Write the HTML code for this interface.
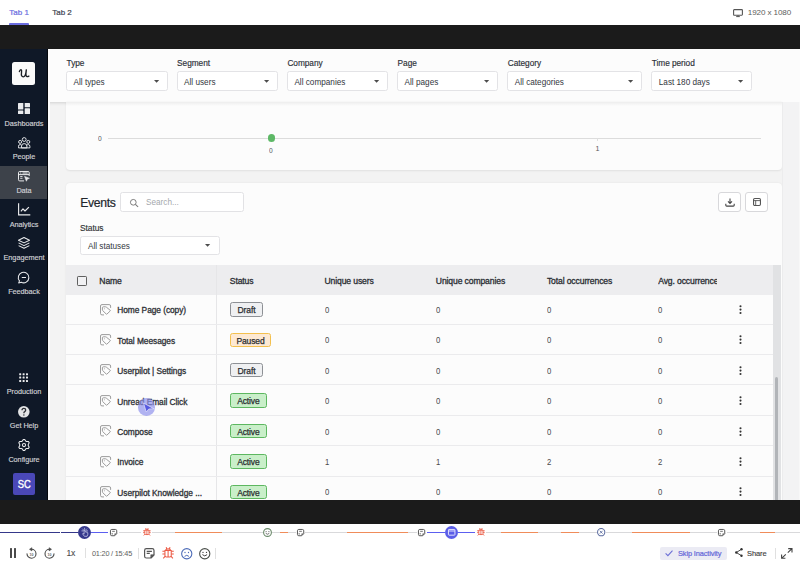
<!DOCTYPE html>
<html><head><meta charset="utf-8">
<style>
*{box-sizing:border-box;margin:0;padding:0}
html,body{width:800px;height:569px;overflow:hidden;background:#fff;font-family:"Liberation Sans",sans-serif;color:#333}
.a{position:absolute}
.t{position:absolute;white-space:nowrap;line-height:1}
svg{position:absolute;overflow:visible}
.lab{font-size:8.3px;color:#2b2f36;letter-spacing:-0.05px;-webkit-text-stroke:0.15px #2b2f36}
.dd{background:#fff;border:1px solid #e3e3e6;border-radius:2.5px}
.ddv{font-size:8.2px;color:#33373e}
.th{top:276.8px;font-size:8.6px;color:#2a2d33;letter-spacing:-0.12px;-webkit-text-stroke:0.3px #2a2d33}
.tn{font-size:8.35px;color:#2e3136;letter-spacing:-0.05px;-webkit-text-stroke:0.3px #2e3136}
.tv{font-size:8.8px;color:#4a4a4a;display:inline-block;transform:scaleX(0.88);transform-origin:0 0}
.badge{height:14.5px;border:1px solid;border-radius:2.5px;font-size:8.5px;line-height:14.2px;text-align:center;color:#2a2d31;letter-spacing:-0.12px;-webkit-text-stroke:0.25px #2a2d31}
.bd{background:#eff0f2;border-color:#8d9095}
.bp{background:#fde9d3;border-color:#f3c04e}
.ba{background:#c9efc9;border-color:#5db760}
.sl{left:0;width:48px;text-align:center;font-size:7.3px;color:#cfd1d5;letter-spacing:-0.05px;-webkit-text-stroke:0.15px #cfd1d5}
.arr{width:0;height:0;border-left:2.9px solid transparent;border-right:2.9px solid transparent;border-top:2.9px solid #505050}
</style></head><body>
<!-- top tabs -->
<div class="a" style="left:0;top:0;width:800px;height:25px;background:#fff"></div>
<div class="t" style="left:9.3px;top:8.8px;font-size:8px;color:#6b6de0;-webkit-text-stroke:0.2px #6b6de0">Tab 1</div>
<div class="a" style="left:9px;top:23px;width:20px;height:2px;background:#6b6de0;border-radius:1px 1px 0 0"></div>
<div class="t" style="left:52.2px;top:8.8px;font-size:8px;color:#3d4450;-webkit-text-stroke:0.2px #3d4450">Tab 2</div>
<svg style="left:733px;top:9px" width="10" height="8" viewBox="0 0 10 8"><rect x="0.6" y="0.6" width="8.8" height="5.6" rx="0.6" fill="none" stroke="#555" stroke-width="1.1"/><path d="M5 6.2V7.6M3.2 7.6H6.8" stroke="#555" stroke-width="1"/></svg>
<div class="t" style="left:747.8px;top:9px;font-size:8.1px;color:#5c5c5c;letter-spacing:-0.12px">1920 x 1080</div>
<!-- black bands -->
<div class="a" style="left:0;top:25px;width:800px;height:24px;background:#1b1b1b"></div>
<!-- sidebar -->
<div class="a" id="sidebar" style="left:0;top:49px;width:48px;height:450.5px;background:#0f1827"></div>
<!-- content bg -->
<div class="a" style="left:48px;top:49px;width:752px;height:450.5px;background:#f3f3f3"></div>
<!-- filter bar -->
<div class="a" style="left:48px;top:49px;width:752px;height:53px;background:#fcfcfc;box-shadow:0 1px 2px rgba(0,0,0,0.06)"></div>
<!-- chart card -->
<div class="a" style="left:66px;top:102px;width:715.5px;height:67.5px;background:#fcfcfc;border-radius:0 0 4px 4px;box-shadow:0 0.5px 2px rgba(0,0,0,0.08)"></div>
<!-- events card -->
<div class="a" style="left:66px;top:183px;width:715.5px;height:330px;background:#fcfcfc;border-radius:4px;box-shadow:0 0.5px 2px rgba(0,0,0,0.08)"></div>
<div class="a" style="left:48px;top:102px;width:752px;height:3.5px;background:linear-gradient(rgba(0,0,0,0.06),rgba(0,0,0,0))"></div>
<!-- right gutter -->
<div class="a" style="left:781.5px;top:102px;width:17.5px;height:397.5px;background:#f3f3f4;border-left:0.8px solid #ececed"></div>
<div class="a" style="left:799px;top:102px;width:1px;height:397.5px;background:#f8f8f8"></div>

<div class="t lab" style="left:66.6px;top:59.1px">Type</div>
<div class="a dd" style="left:66.0px;top:70.8px;width:101.5px;height:20.2px"></div>
<div class="t ddv" style="left:73.6px;top:78.6px">All types</div>
<svg style="left:153.7px;top:79.7px" width="5.2" height="2.8" viewBox="0 0 5.2 2.8"><path d="M0 0H5.2L2.6 2.8Z" fill="#4d4d4d"/></svg>
<div class="t lab" style="left:177.1px;top:59.1px">Segment</div>
<div class="a dd" style="left:176.5px;top:70.8px;width:101.0px;height:20.2px"></div>
<div class="t ddv" style="left:184.1px;top:78.6px">All users</div>
<svg style="left:263.7px;top:79.7px" width="5.2" height="2.8" viewBox="0 0 5.2 2.8"><path d="M0 0H5.2L2.6 2.8Z" fill="#4d4d4d"/></svg>
<div class="t lab" style="left:287.4px;top:59.1px">Company</div>
<div class="a dd" style="left:286.8px;top:70.8px;width:101.0px;height:20.2px"></div>
<div class="t ddv" style="left:294.4px;top:78.6px">All companies</div>
<svg style="left:374.0px;top:79.7px" width="5.2" height="2.8" viewBox="0 0 5.2 2.8"><path d="M0 0H5.2L2.6 2.8Z" fill="#4d4d4d"/></svg>
<div class="t lab" style="left:397.6px;top:59.1px">Page</div>
<div class="a dd" style="left:397.0px;top:70.8px;width:100.6px;height:20.2px"></div>
<div class="t ddv" style="left:404.6px;top:78.6px">All pages</div>
<svg style="left:483.8px;top:79.7px" width="5.2" height="2.8" viewBox="0 0 5.2 2.8"><path d="M0 0H5.2L2.6 2.8Z" fill="#4d4d4d"/></svg>
<div class="t lab" style="left:507.8px;top:59.1px">Category</div>
<div class="a dd" style="left:507.2px;top:70.8px;width:134.8px;height:20.2px"></div>
<div class="t ddv" style="left:514.8px;top:78.6px">All categories</div>
<svg style="left:628.2px;top:79.7px" width="5.2" height="2.8" viewBox="0 0 5.2 2.8"><path d="M0 0H5.2L2.6 2.8Z" fill="#4d4d4d"/></svg>
<div class="t lab" style="left:651.8px;top:59.1px">Time period</div>
<div class="a dd" style="left:651.2px;top:70.8px;width:100.8px;height:20.2px"></div>
<div class="t ddv" style="left:658.8px;top:78.6px">Last 180 days</div>
<svg style="left:738.2px;top:79.7px" width="5.2" height="2.8" viewBox="0 0 5.2 2.8"><path d="M0 0H5.2L2.6 2.8Z" fill="#4d4d4d"/></svg>
<div class="t" style="left:97.8px;top:134.9px;font-size:7.4px;color:#5a5a5a;display:inline-block;transform:scaleX(0.9);transform-origin:0 0">0</div>
<div class="a" style="left:107.8px;top:137.9px;width:653px;height:1px;background:#dcdcdc"></div>
<div class="a" style="left:597px;top:138px;width:1px;height:3px;background:#dedede"></div>
<div class="a" style="left:267.5px;top:134.3px;width:7.5px;height:7.5px;border-radius:50%;background:#5db866"></div>
<div class="t" style="left:269.4px;top:147.4px;font-size:7.4px;color:#5a5a5a;display:inline-block;transform:scaleX(0.9);transform-origin:0 0">0</div>
<div class="t" style="left:595.6px;top:146.4px;font-size:7.1px;color:#5a5a5a">1</div>
<div class="t" style="left:80.2px;top:196.9px;font-size:12.2px;letter-spacing:-0.3px;color:#22262c;-webkit-text-stroke:0.2px #22262c">Events</div>
<div class="a" style="left:120px;top:192px;width:123.5px;height:19.8px;background:#fff;border:1px solid #e2e2e5;border-radius:2.5px"></div>
<svg style="left:129.5px;top:198.8px" width="9" height="8" viewBox="0 0 9 8"><circle cx="3.3" cy="3.3" r="2.85" fill="none" stroke="#777" stroke-width="0.95"/><path d="M5.4 5.4L8.1 7.8" stroke="#777" stroke-width="1.05"/></svg>
<div class="t" style="left:146px;top:198.5px;font-size:8.2px;color:#a5a8ad">Search...</div>
<div class="t lab" style="left:80px;top:223.6px;font-weight:400;color:#333;font-size:8.4px">Status</div>
<div class="a dd" style="left:79.8px;top:235.8px;width:140.6px;height:19.7px"></div>
<div class="t ddv" style="left:88px;top:242.5px">All statuses</div>
<svg style="left:205.0px;top:243.9px" width="5.2" height="2.8" viewBox="0 0 5.2 2.8"><path d="M0 0H5.2L2.6 2.8Z" fill="#4d4d4d"/></svg>
<div class="a" style="left:718.3px;top:191.8px;width:22.5px;height:20px;border:1px solid #d8d8db;border-radius:3px;background:#fff"></div>
<div class="a" style="left:745.4px;top:191.8px;width:22.5px;height:20px;border:1px solid #d8d8db;border-radius:3px;background:#fff"></div>
<svg style="left:724.5px;top:197.5px" width="10" height="9" viewBox="0 0 10 9"><path d="M5 0.5V5.2M3 3.4L5 5.4L7 3.4" fill="none" stroke="#444" stroke-width="1.1"/><path d="M0.8 5.8V7.2Q0.8 8.1 1.7 8.1H8.3Q9.2 8.1 9.2 7.2V5.8" fill="none" stroke="#444" stroke-width="1.1"/></svg>
<svg style="left:752.8px;top:198px" width="8" height="8" viewBox="0 0 8 8"><rect x="0.55" y="0.55" width="6.9" height="6.9" rx="1.2" fill="none" stroke="#555" stroke-width="1.1"/><path d="M0.6 2.6H7.4M2.7 2.6V7.4" stroke="#555" stroke-width="0.9"/></svg>
<!--TB-->
<div class="a" style="left:66px;top:265px;width:706.5px;height:29.9px;background:#ededef"></div>
<div class="a" style="left:215.8px;top:265px;width:1px;height:234.5px;background:#e6e6e8"></div>
<div class="a" style="left:77px;top:275.8px;width:10px;height:10px;border:1.1px solid #606060;border-radius:1.2px;background:#f1f1f3"></div>
<div class="t th" style="left:99.3px">Name</div>
<div class="t th" style="left:229.8px">Status</div>
<div class="t th" style="left:324.5px">Unique users</div>
<div class="t th" style="left:435.8px">Unique companies</div>
<div class="t th" style="left:546.9px">Total occurrences</div>
<div class="a" style="left:658.2px;top:270px;width:59px;height:20px;overflow:hidden"><div class="t th" style="left:0;top:6.8px">Avg. occurrences</div></div>
<svg style="left:100px;top:303.60px" width="11" height="11" viewBox="0 0 11 11"><path d="M4 10.9H2Q0.5 10.9 0.5 9.4V2Q0.5 0.6 2 0.6H9.1Q10.6 0.6 10.6 2V3.9" fill="none" stroke="#9c9c9c" stroke-width="1"/><path d="M3.3 2.8H5.6Q6 2.8 6.3 3.1L10.2 6.3Q10.6 6.6 10.2 7L7 10Q6.6 10.4 6.2 10L2.7 6.6Q2.4 6.3 2.4 5.9V3.7Q2.4 2.8 3.3 2.8Z" fill="none" stroke="#9c9c9c" stroke-width="1"/><circle cx="4.4" cy="4.8" r="0.5" fill="#9c9c9c"/></svg>
<div class="t tn" style="left:117.3px;top:306.30px">Home Page (copy)</div>
<div class="a badge bd" style="left:230px;top:302.10px;width:33px">Draft</div>
<div class="t tv" style="left:324.5px;top:306.00px">0</div>
<div class="t tv" style="left:435.8px;top:306.00px">0</div>
<div class="t tv" style="left:546.9px;top:306.00px">0</div>
<div class="t tv" style="left:658.2px;top:306.00px">0</div>
<svg style="left:738.8px;top:305.00px" width="3" height="10" viewBox="0 0 3 10"><circle cx="1.5" cy="1.2" r="1.05" fill="#333"/><circle cx="1.5" cy="4.6" r="1.05" fill="#333"/><circle cx="1.5" cy="8" r="1.05" fill="#333"/></svg>
<div class="a" style="left:66px;top:323.70px;width:706.5px;height:1px;background:#ebebed"></div>
<svg style="left:100px;top:334.00px" width="11" height="11" viewBox="0 0 11 11"><path d="M4 10.9H2Q0.5 10.9 0.5 9.4V2Q0.5 0.6 2 0.6H9.1Q10.6 0.6 10.6 2V3.9" fill="none" stroke="#9c9c9c" stroke-width="1"/><path d="M3.3 2.8H5.6Q6 2.8 6.3 3.1L10.2 6.3Q10.6 6.6 10.2 7L7 10Q6.6 10.4 6.2 10L2.7 6.6Q2.4 6.3 2.4 5.9V3.7Q2.4 2.8 3.3 2.8Z" fill="none" stroke="#9c9c9c" stroke-width="1"/><circle cx="4.4" cy="4.8" r="0.5" fill="#9c9c9c"/></svg>
<div class="t tn" style="left:117.3px;top:336.70px">Total Meesages</div>
<div class="a badge bp" style="left:230px;top:332.50px;width:41px">Paused</div>
<div class="t tv" style="left:324.5px;top:336.40px">0</div>
<div class="t tv" style="left:435.8px;top:336.40px">0</div>
<div class="t tv" style="left:546.9px;top:336.40px">0</div>
<div class="t tv" style="left:658.2px;top:336.40px">0</div>
<svg style="left:738.8px;top:335.40px" width="3" height="10" viewBox="0 0 3 10"><circle cx="1.5" cy="1.2" r="1.05" fill="#333"/><circle cx="1.5" cy="4.6" r="1.05" fill="#333"/><circle cx="1.5" cy="8" r="1.05" fill="#333"/></svg>
<div class="a" style="left:66px;top:354.06px;width:706.5px;height:1px;background:#ebebed"></div>
<svg style="left:100px;top:364.40px" width="11" height="11" viewBox="0 0 11 11"><path d="M4 10.9H2Q0.5 10.9 0.5 9.4V2Q0.5 0.6 2 0.6H9.1Q10.6 0.6 10.6 2V3.9" fill="none" stroke="#9c9c9c" stroke-width="1"/><path d="M3.3 2.8H5.6Q6 2.8 6.3 3.1L10.2 6.3Q10.6 6.6 10.2 7L7 10Q6.6 10.4 6.2 10L2.7 6.6Q2.4 6.3 2.4 5.9V3.7Q2.4 2.8 3.3 2.8Z" fill="none" stroke="#9c9c9c" stroke-width="1"/><circle cx="4.4" cy="4.8" r="0.5" fill="#9c9c9c"/></svg>
<div class="t tn" style="left:117.3px;top:367.10px">Userpilot | Settings</div>
<div class="a badge bd" style="left:230px;top:362.90px;width:33px">Draft</div>
<div class="t tv" style="left:324.5px;top:366.80px">0</div>
<div class="t tv" style="left:435.8px;top:366.80px">0</div>
<div class="t tv" style="left:546.9px;top:366.80px">0</div>
<div class="t tv" style="left:658.2px;top:366.80px">0</div>
<svg style="left:738.8px;top:365.80px" width="3" height="10" viewBox="0 0 3 10"><circle cx="1.5" cy="1.2" r="1.05" fill="#333"/><circle cx="1.5" cy="4.6" r="1.05" fill="#333"/><circle cx="1.5" cy="8" r="1.05" fill="#333"/></svg>
<div class="a" style="left:66px;top:384.42px;width:706.5px;height:1px;background:#ebebed"></div>
<svg style="left:100px;top:394.80px" width="11" height="11" viewBox="0 0 11 11"><path d="M4 10.9H2Q0.5 10.9 0.5 9.4V2Q0.5 0.6 2 0.6H9.1Q10.6 0.6 10.6 2V3.9" fill="none" stroke="#9c9c9c" stroke-width="1"/><path d="M3.3 2.8H5.6Q6 2.8 6.3 3.1L10.2 6.3Q10.6 6.6 10.2 7L7 10Q6.6 10.4 6.2 10L2.7 6.6Q2.4 6.3 2.4 5.9V3.7Q2.4 2.8 3.3 2.8Z" fill="none" stroke="#9c9c9c" stroke-width="1"/><circle cx="4.4" cy="4.8" r="0.5" fill="#9c9c9c"/></svg>
<div class="t tn" style="left:117.3px;top:397.50px">Unread Email Click</div>
<div class="a badge ba" style="left:230px;top:393.30px;width:36.8px">Active</div>
<div class="t tv" style="left:324.5px;top:397.20px">0</div>
<div class="t tv" style="left:435.8px;top:397.20px">0</div>
<div class="t tv" style="left:546.9px;top:397.20px">0</div>
<div class="t tv" style="left:658.2px;top:397.20px">0</div>
<svg style="left:738.8px;top:396.20px" width="3" height="10" viewBox="0 0 3 10"><circle cx="1.5" cy="1.2" r="1.05" fill="#333"/><circle cx="1.5" cy="4.6" r="1.05" fill="#333"/><circle cx="1.5" cy="8" r="1.05" fill="#333"/></svg>
<div class="a" style="left:66px;top:414.78px;width:706.5px;height:1px;background:#ebebed"></div>
<svg style="left:100px;top:425.20px" width="11" height="11" viewBox="0 0 11 11"><path d="M4 10.9H2Q0.5 10.9 0.5 9.4V2Q0.5 0.6 2 0.6H9.1Q10.6 0.6 10.6 2V3.9" fill="none" stroke="#9c9c9c" stroke-width="1"/><path d="M3.3 2.8H5.6Q6 2.8 6.3 3.1L10.2 6.3Q10.6 6.6 10.2 7L7 10Q6.6 10.4 6.2 10L2.7 6.6Q2.4 6.3 2.4 5.9V3.7Q2.4 2.8 3.3 2.8Z" fill="none" stroke="#9c9c9c" stroke-width="1"/><circle cx="4.4" cy="4.8" r="0.5" fill="#9c9c9c"/></svg>
<div class="t tn" style="left:117.3px;top:427.90px">Compose</div>
<div class="a badge ba" style="left:230px;top:423.70px;width:36.8px">Active</div>
<div class="t tv" style="left:324.5px;top:427.60px">0</div>
<div class="t tv" style="left:435.8px;top:427.60px">0</div>
<div class="t tv" style="left:546.9px;top:427.60px">0</div>
<div class="t tv" style="left:658.2px;top:427.60px">0</div>
<svg style="left:738.8px;top:426.60px" width="3" height="10" viewBox="0 0 3 10"><circle cx="1.5" cy="1.2" r="1.05" fill="#333"/><circle cx="1.5" cy="4.6" r="1.05" fill="#333"/><circle cx="1.5" cy="8" r="1.05" fill="#333"/></svg>
<div class="a" style="left:66px;top:445.14px;width:706.5px;height:1px;background:#ebebed"></div>
<svg style="left:100px;top:455.60px" width="11" height="11" viewBox="0 0 11 11"><path d="M4 10.9H2Q0.5 10.9 0.5 9.4V2Q0.5 0.6 2 0.6H9.1Q10.6 0.6 10.6 2V3.9" fill="none" stroke="#9c9c9c" stroke-width="1"/><path d="M3.3 2.8H5.6Q6 2.8 6.3 3.1L10.2 6.3Q10.6 6.6 10.2 7L7 10Q6.6 10.4 6.2 10L2.7 6.6Q2.4 6.3 2.4 5.9V3.7Q2.4 2.8 3.3 2.8Z" fill="none" stroke="#9c9c9c" stroke-width="1"/><circle cx="4.4" cy="4.8" r="0.5" fill="#9c9c9c"/></svg>
<div class="t tn" style="left:117.3px;top:458.30px">Invoice</div>
<div class="a badge ba" style="left:230px;top:454.10px;width:36.8px">Active</div>
<div class="t tv" style="left:324.5px;top:458.00px">1</div>
<div class="t tv" style="left:435.8px;top:458.00px">1</div>
<div class="t tv" style="left:546.9px;top:458.00px">2</div>
<div class="t tv" style="left:658.2px;top:458.00px">2</div>
<svg style="left:738.8px;top:457.00px" width="3" height="10" viewBox="0 0 3 10"><circle cx="1.5" cy="1.2" r="1.05" fill="#333"/><circle cx="1.5" cy="4.6" r="1.05" fill="#333"/><circle cx="1.5" cy="8" r="1.05" fill="#333"/></svg>
<div class="a" style="left:66px;top:475.50px;width:706.5px;height:1px;background:#ebebed"></div>
<svg style="left:100px;top:486.00px" width="11" height="11" viewBox="0 0 11 11"><path d="M4 10.9H2Q0.5 10.9 0.5 9.4V2Q0.5 0.6 2 0.6H9.1Q10.6 0.6 10.6 2V3.9" fill="none" stroke="#9c9c9c" stroke-width="1"/><path d="M3.3 2.8H5.6Q6 2.8 6.3 3.1L10.2 6.3Q10.6 6.6 10.2 7L7 10Q6.6 10.4 6.2 10L2.7 6.6Q2.4 6.3 2.4 5.9V3.7Q2.4 2.8 3.3 2.8Z" fill="none" stroke="#9c9c9c" stroke-width="1"/><circle cx="4.4" cy="4.8" r="0.5" fill="#9c9c9c"/></svg>
<div class="t tn" style="left:117.3px;top:488.70px">Userpilot Knowledge ...</div>
<div class="a badge ba" style="left:230px;top:484.50px;width:36.8px">Active</div>
<div class="t tv" style="left:324.5px;top:488.40px">0</div>
<div class="t tv" style="left:435.8px;top:488.40px">0</div>
<div class="t tv" style="left:546.9px;top:488.40px">0</div>
<div class="t tv" style="left:658.2px;top:488.40px">0</div>
<svg style="left:738.8px;top:487.40px" width="3" height="10" viewBox="0 0 3 10"><circle cx="1.5" cy="1.2" r="1.05" fill="#333"/><circle cx="1.5" cy="4.6" r="1.05" fill="#333"/><circle cx="1.5" cy="8" r="1.05" fill="#333"/></svg>
<div class="a" style="left:772.6px;top:265px;width:8.9px;height:234.5px;background:#e1e2e4"></div>
<div class="a" style="left:774.9px;top:377.4px;width:3.5px;height:140px;background:#b1b4b8;border-radius:2px"></div>
<div class="a" style="left:137.7px;top:398.4px;width:17.5px;height:17.5px;border-radius:50%;background:rgba(140,143,236,0.68)"></div>
<svg style="left:142px;top:401px" width="13" height="12" viewBox="0 0 13 12"><path d="M1.5 2L11.8 7.7L6.8 8L4.3 11Z" fill="#5659e0" stroke="#e6e6fb" stroke-width="0.7" stroke-linejoin="round"/></svg>
<!--TE-->
<div class="a" style="left:47px;top:49px;width:1px;height:450.5px;background:#05080d"></div>
<div class="a" style="left:48px;top:49px;width:2.2px;height:450.5px;background:#fdfdfd"></div>
<div class="a" style="left:12.4px;top:61.9px;width:22.9px;height:23.1px;background:#fafafa;border-radius:2.5px"></div>
<svg style="left:19px;top:69.4px" width="11" height="9" viewBox="0 0 11 9"><path d="M0.4 2.6Q1.3 0.4 2.3 0.9Q2.9 1.3 2.5 3.6Q1.9 7.9 4.3 7.9Q6.6 7.9 7.3 0.8Q6.7 5.2 7.1 6.6Q7.5 8.3 9.9 7.1" fill="none" stroke="#1a1e25" stroke-width="1.35" stroke-linecap="round" stroke-linejoin="round"/></svg>
<div class="a" style="left:0;top:165.5px;width:47px;height:33.5px;background:#3d424a"></div>
<svg style="left:18px;top:102.9px" width="12" height="11" viewBox="0 0 12 11"><rect x="0" y="0" width="5.3" height="6.6" rx="0.5" fill="#e9eaec"/><rect x="6.7" y="0" width="5.3" height="4.2" rx="0.5" fill="#e9eaec"/><rect x="0" y="7.6" width="5.3" height="3.4" rx="0.5" fill="#e9eaec"/><rect x="6.7" y="5.3" width="5.3" height="5.7" rx="0.5" fill="#e9eaec"/></svg>
<svg style="left:17.8px;top:136.6px" width="12.4" height="11.4" viewBox="0 0 12.4 11.4" fill="none" stroke="#e9eaec" stroke-width="0.95"><circle cx="6.2" cy="2.5" r="1.9"/><circle cx="2.1" cy="4.9" r="1.5"/><circle cx="10.3" cy="4.9" r="1.5"/><path d="M0.5 10.9V9.3Q0.5 7.6 2.1 7.6Q3.3 7.6 3.7 8.4"/><path d="M11.9 10.9V9.3Q11.9 7.6 10.3 7.6Q9.1 7.6 8.7 8.4"/><path d="M3.5 10.9V9Q3.5 6.6 6.2 6.6Q8.9 6.6 8.9 9V10.9Z"/><path d="M0.5 10.9H11.9"/></svg>
<svg style="left:18px;top:170.8px" width="12" height="10.4" viewBox="0 0 12 10.4" fill="none" stroke="#e9eaec" stroke-width="1"><path d="M6 9.9H1.7Q0.5 9.9 0.5 8.7V1.7Q0.5 0.5 1.7 0.5H10Q11.2 0.5 11.2 1.7V5"/><path d="M0.5 3.6H11.2"/><path d="M2.2 2H3.2M4.5 2H9.7" stroke-width="1.1"/><path d="M2.2 5.5H4.5M2.2 7.3H4.5" stroke-width="0.9"/><path d="M6.6 5.4L11.4 7.3L9.4 8.1L8.4 10.2Z" fill="#e9eaec" stroke-width="0.6" stroke-linejoin="round"/></svg>
<svg style="left:17.6px;top:203.2px" width="12.6" height="12.6" viewBox="0 0 12.6 12.6" fill="none" stroke="#e9eaec" stroke-width="1.15"><path d="M0.6 0.3V11.9H12.3"/><path d="M2.9 8.3L5 5.9L7 8L10.9 4.2" stroke-linejoin="round"/></svg>
<svg style="left:18px;top:237.2px" width="12" height="12" viewBox="0 0 12 12" fill="none" stroke="#e9eaec" stroke-width="1.05" stroke-linejoin="round"><path d="M6 0.5L11.5 3.2L6 5.9L0.5 3.2Z"/><path d="M0.6 5.9L6 8.6L11.4 5.9"/><path d="M0.6 8.6L6 11.3L11.4 8.6"/></svg>
<svg style="left:18px;top:271.8px" width="12" height="11.5" viewBox="0 0 12 11.5" fill="none" stroke="#e9eaec" stroke-width="1.05"><path d="M1.5 8.9A5.3 5.3 0 1 1 3.3 10.3L0.7 10.9Z" stroke-linejoin="round"/><path d="M3.8 5.5H8" stroke-width="1"/></svg>
<svg style="left:19.2px;top:373.3px" width="9.3" height="9.3" viewBox="0 0 9.3 9.3"><rect x="0.2" y="0.2" width="2" height="2" rx="0.5" fill="#e9eaec"/><rect x="0.2" y="3.6" width="2" height="2" rx="0.5" fill="#e9eaec"/><rect x="0.2" y="7.0" width="2" height="2" rx="0.5" fill="#e9eaec"/><rect x="3.6" y="0.2" width="2" height="2" rx="0.5" fill="#e9eaec"/><rect x="3.6" y="3.6" width="2" height="2" rx="0.5" fill="#e9eaec"/><rect x="3.6" y="7.0" width="2" height="2" rx="0.5" fill="#e9eaec"/><rect x="7.0" y="0.2" width="2" height="2" rx="0.5" fill="#e9eaec"/><rect x="7.0" y="3.6" width="2" height="2" rx="0.5" fill="#e9eaec"/><rect x="7.0" y="7.0" width="2" height="2" rx="0.5" fill="#e9eaec"/></svg>
<svg style="left:18px;top:405.7px" width="11.6" height="11.6" viewBox="0 0 11.6 11.6"><circle cx="5.8" cy="5.8" r="5.8" fill="#e3e4e6"/><path d="M4 4.3Q4 2.4 5.9 2.4Q7.7 2.4 7.7 4Q7.7 5 6.7 5.6Q5.9 6 5.9 7V7.3" fill="none" stroke="#2a2d33" stroke-width="1.3"/><circle cx="5.9" cy="8.9" r="0.75" fill="#2a2d33"/></svg>
<svg style="left:17.9px;top:439.4px" width="12" height="12" viewBox="0 0 12 12" fill="none" stroke="#e9eaec" stroke-width="1.05" stroke-linejoin="round"><path d="M5.27 0.45 L6.73 0.45 L7.65 2.03 L8.62 2.59 L10.44 2.59 L11.17 3.86 L10.26 5.44 L10.26 6.56 L11.17 8.14 L10.44 9.41 L8.62 9.41 L7.65 9.97 L6.73 11.55 L5.27 11.55 L4.35 9.97 L3.38 9.41 L1.56 9.41 L0.83 8.14 L1.74 6.56 L1.74 5.44 L0.83 3.86 L1.56 2.59 L3.38 2.59 L4.35 2.03Z"/><circle cx="6" cy="6" r="1.6"/></svg>
<div class="a" style="left:12.5px;top:472.9px;width:22.7px;height:22.6px;background:#4a48b8;border-radius:2px"></div>
<div class="t" style="left:12.5px;width:22.7px;text-align:center;top:480px;font-size:10.2px;color:#fff;-webkit-text-stroke:0.35px #fff;transform:scaleX(0.92);transform-origin:50% 0">SC</div>
<div class="t sl" style="top:119.5px">Dashboards</div>
<div class="t sl" style="top:152.9px">People</div>
<div class="t sl" style="top:186.8px">Data</div>
<div class="t sl" style="top:220.5px">Analytics</div>
<div class="t sl" style="top:254.0px">Engagement</div>
<div class="t sl" style="top:287.7px">Feedback</div>
<div class="t sl" style="top:388.2px">Production</div>
<div class="t sl" style="top:422.0px">Get Help</div>
<div class="t sl" style="top:455.7px">Configure</div>
<div class="a" style="left:0;top:499.5px;width:800px;height:24.7px;background:#1b1b1b"></div>
<div class="a" style="left:0px;top:531.8px;width:59.5px;height:1.3px;background:#35388a"></div>
<div class="a" style="left:61.3px;top:531.8px;width:16.7px;height:1.3px;background:#35388a"></div>
<div class="a" style="left:91px;top:531.8px;width:17.0px;height:1.3px;background:#5c5ff0"></div>
<div class="a" style="left:119.3px;top:531.8px;width:21.7px;height:1.3px;background:#d9d9db"></div>
<div class="a" style="left:152.4px;top:531.8px;width:22.6px;height:1.3px;background:#d9d9db"></div>
<div class="a" style="left:175px;top:531.8px;width:47.0px;height:1.3px;background:#f08c5a"></div>
<div class="a" style="left:222px;top:531.8px;width:40.5px;height:1.3px;background:#d9d9db"></div>
<div class="a" style="left:272px;top:531.8px;width:8.0px;height:1.3px;background:#d9d9db"></div>
<div class="a" style="left:280px;top:531.8px;width:8.0px;height:1.3px;background:#f08c5a"></div>
<div class="a" style="left:288px;top:531.8px;width:8.0px;height:1.3px;background:#d9d9db"></div>
<div class="a" style="left:305px;top:531.8px;width:42.0px;height:1.3px;background:#d9d9db"></div>
<div class="a" style="left:347px;top:531.8px;width:61.0px;height:1.3px;background:#f08c5a"></div>
<div class="a" style="left:408px;top:531.8px;width:8.5px;height:1.3px;background:#d9d9db"></div>
<div class="a" style="left:427px;top:531.8px;width:17.5px;height:1.3px;background:#5c5ff0"></div>
<div class="a" style="left:458px;top:531.8px;width:17.0px;height:1.3px;background:#5c5ff0"></div>
<div class="a" style="left:485.5px;top:531.8px;width:15.5px;height:1.3px;background:#d9d9db"></div>
<div class="a" style="left:501px;top:531.8px;width:37.0px;height:1.3px;background:#f08c5a"></div>
<div class="a" style="left:538px;top:531.8px;width:22.5px;height:1.3px;background:#d9d9db"></div>
<div class="a" style="left:560.5px;top:531.8px;width:18.5px;height:1.3px;background:#f08c5a"></div>
<div class="a" style="left:579px;top:531.8px;width:17.5px;height:1.3px;background:#d9d9db"></div>
<div class="a" style="left:606px;top:531.8px;width:26.0px;height:1.3px;background:#d9d9db"></div>
<div class="a" style="left:632px;top:531.8px;width:58.0px;height:1.3px;background:#f08c5a"></div>
<div class="a" style="left:690px;top:531.8px;width:27.0px;height:1.3px;background:#d9d9db"></div>
<div class="a" style="left:726.5px;top:531.8px;width:33.5px;height:1.3px;background:#d9d9db"></div>
<div class="a" style="left:760px;top:531.8px;width:15.0px;height:1.3px;background:#f08c5a"></div>
<div class="a" style="left:775px;top:531.8px;width:25.0px;height:1.3px;background:#d9d9db"></div>
<svg style="left:109.8px;top:528.9px" width="7.2" height="7.2" viewBox="0 0 8 8"><path d="M5.2 7.5H2Q0.5 7.5 0.5 6V2Q0.5 0.5 2 0.5H6Q7.5 0.5 7.5 2V5.2Z" fill="#fff" stroke="#555" stroke-width="1.1" stroke-linejoin="round"/><path d="M5 7.4V5H7.4Z" fill="#555"/><path d="M2.4 2.6H5.4M2.4 4.4V6.2" stroke="#555" stroke-width="0.9"/></svg>
<svg style="left:297px;top:528.9px" width="7.2" height="7.2" viewBox="0 0 8 8"><path d="M5.2 7.5H2Q0.5 7.5 0.5 6V2Q0.5 0.5 2 0.5H6Q7.5 0.5 7.5 2V5.2Z" fill="#fff" stroke="#555" stroke-width="1.1" stroke-linejoin="round"/><path d="M5 7.4V5H7.4Z" fill="#555"/><path d="M2.4 2.6H5.4M2.4 4.4V6.2" stroke="#555" stroke-width="0.9"/></svg>
<svg style="left:418px;top:528.9px" width="7.2" height="7.2" viewBox="0 0 8 8"><path d="M5.2 7.5H2Q0.5 7.5 0.5 6V2Q0.5 0.5 2 0.5H6Q7.5 0.5 7.5 2V5.2Z" fill="#fff" stroke="#555" stroke-width="1.1" stroke-linejoin="round"/><path d="M5 7.4V5H7.4Z" fill="#555"/><path d="M2.4 2.6H5.4M2.4 4.4V6.2" stroke="#555" stroke-width="0.9"/></svg>
<svg style="left:717.8px;top:528.9px" width="7.2" height="7.2" viewBox="0 0 8 8"><path d="M5.2 7.5H2Q0.5 7.5 0.5 6V2Q0.5 0.5 2 0.5H6Q7.5 0.5 7.5 2V5.2Z" fill="#fff" stroke="#555" stroke-width="1.1" stroke-linejoin="round"/><path d="M5 7.4V5H7.4Z" fill="#555"/><path d="M2.4 2.6H5.4M2.4 4.4V6.2" stroke="#555" stroke-width="0.9"/></svg>
<svg style="left:142.8px;top:528.2px" width="7.8" height="7.8" viewBox="0 0 12 12" fill="none" stroke="#ea5e48" stroke-width="1.4"><path d="M3.2 3.5Q3.8 1.9 6 1.9Q8.2 1.9 8.8 3.5"/><path d="M4.6 2.1L4.1 0.2M7.4 2.1L7.9 0.2"/><path d="M2.8 3.5H9.2V8.6Q9.2 10.1 7.7 10.1H4.3Q2.8 10.1 2.8 8.6Z"/><path d="M6 3.5V10.1"/><path d="M0.2 4.3H2.8M9.2 4.3H11.8M0.2 7.1H2.8M9.2 7.1H11.8M1.1 11.5L3.1 9.3M10.9 11.5L8.9 9.3"/></svg>
<svg style="left:476.8px;top:528.2px" width="7.8" height="7.8" viewBox="0 0 12 12" fill="none" stroke="#ea5e48" stroke-width="1.4"><path d="M3.2 3.5Q3.8 1.9 6 1.9Q8.2 1.9 8.8 3.5"/><path d="M4.6 2.1L4.1 0.2M7.4 2.1L7.9 0.2"/><path d="M2.8 3.5H9.2V8.6Q9.2 10.1 7.7 10.1H4.3Q2.8 10.1 2.8 8.6Z"/><path d="M6 3.5V10.1"/><path d="M0.2 4.3H2.8M9.2 4.3H11.8M0.2 7.1H2.8M9.2 7.1H11.8M1.1 11.5L3.1 9.3M10.9 11.5L8.9 9.3"/></svg>
<svg style="left:263px;top:528px" width="9" height="9" viewBox="0 0 9 9"><circle cx="4.5" cy="4.5" r="3.9" fill="#fff" stroke="#6b8a6b" stroke-width="1.1"/><circle cx="3.1" cy="3.6" r="0.55" fill="#555"/><circle cx="5.9" cy="3.6" r="0.55" fill="#555"/><path d="M2.7 5.3Q4.5 7.2 6.3 5.3" fill="none" stroke="#555" stroke-width="0.8"/></svg>
<svg style="left:597.2px;top:528px" width="8.4" height="8.4" viewBox="0 0 9 9"><circle cx="4.5" cy="4.5" r="3.9" fill="#fff" stroke="#5a6a9e" stroke-width="1.1"/><path d="M3 3L6 6M6 3L3 6" stroke="#5a6a9e" stroke-width="0.9"/></svg>
<div class="a" style="left:77.9px;top:525.9px;width:13.1px;height:13.1px;border-radius:50%;background:#35388c"></div>
<svg style="left:80.5px;top:528.2px" width="8" height="9" viewBox="0 0 8 9" fill="none" stroke="#cfd2ee" stroke-width="0.75" stroke-linecap="round" stroke-linejoin="round"><path d="M3.6 0.2V1.3M0.9 2.9H1.9M5.4 2.9H6.5M1.6 1L2.2 1.6M5.6 1L5 1.6"/><path d="M3.1 2.5V6.1L2.3 5.5Q1.7 5.2 1.6 5.9L3.4 8.3H6.1L6.8 6.4V4.9Q6.8 4.4 6.3 4.3L4.3 3.9V2.5Q3.7 1.8 3.1 2.5Z"/></svg>
<div class="a" style="left:444.7px;top:525.8px;width:13.2px;height:13.2px;border-radius:50%;background:#5b5ee8"></div>
<svg style="left:447.6px;top:529.1px" width="7.4" height="6.6" viewBox="0 0 7.4 6.6" fill="none" stroke="#f0f0ff" stroke-width="0.9"><rect x="0.45" y="0.45" width="6.5" height="5.7" rx="0.6"/><path d="M0.5 2H6.9"/></svg>
<div class="a" style="left:10px;top:548.4px;width:1.5px;height:9.9px;background:#4a4a4a;border-radius:0.5px"></div>
<div class="a" style="left:14.4px;top:548.4px;width:1.6px;height:9.9px;background:#4a4a4a;border-radius:0.5px"></div>
<svg style="left:25.6px;top:547.3px" width="11" height="12" viewBox="0 0 11 12"><g ><path d="M5.5 2.3A4.5 4.5 0 1 1 1 6.8" fill="none" stroke="#4a4a4a" stroke-width="1.1" stroke-linecap="round"/><path d="M3.5 2.3L5.9 0.7V3.9Z" fill="#4a4a4a" stroke="#4a4a4a" stroke-width="0.6" stroke-linejoin="round"/></g><text x="5.5" y="8.6" text-anchor="middle" font-family="Liberation Sans" font-size="3.6" font-weight="700" fill="#666">10</text></svg>
<svg style="left:43.6px;top:547.3px" width="11" height="12" viewBox="0 0 11 12"><g transform="translate(11,0) scale(-1,1)"><path d="M5.5 2.3A4.5 4.5 0 1 1 1 6.8" fill="none" stroke="#4a4a4a" stroke-width="1.1" stroke-linecap="round"/><path d="M3.5 2.3L5.9 0.7V3.9Z" fill="#4a4a4a" stroke="#4a4a4a" stroke-width="0.6" stroke-linejoin="round"/></g><text x="5.5" y="8.6" text-anchor="middle" font-family="Liberation Sans" font-size="3.6" font-weight="700" fill="#666">10</text></svg>
<div class="t" style="left:66.4px;top:549.4px;font-size:8.6px;color:#4a4a4a;letter-spacing:-0.1px;-webkit-text-stroke:0.1px #4a4a4a">1x</div>
<div class="a" style="left:85.4px;top:547.7px;width:0.8px;height:10.5px;background:#e0e0e0"></div>
<div class="t" style="left:92px;top:550px;font-size:7.3px;color:#5e5e5e;letter-spacing:-0.2px">01:20 / 15:45</div>
<div class="a" style="left:138.1px;top:548px;width:0.8px;height:10.5px;background:#e0e0e0"></div>
<svg style="left:144.2px;top:548px" width="10.6" height="10.6" viewBox="0 0 10.6 10.6"><path d="M7 10H2.4Q0.6 10 0.6 8.2V2.4Q0.6 0.6 2.4 0.6H8.2Q10 0.6 10 2.4V7Z" fill="none" stroke="#555" stroke-width="1.2" stroke-linejoin="round"/><path d="M6.8 10V6.8H10Z" fill="#555" stroke="#555" stroke-width="0.6" stroke-linejoin="round"/><path d="M2.7 3.4H7.9M2.7 5.4H5.8" stroke="#555" stroke-width="1.05"/></svg>
<svg style="left:161.8px;top:547.2px" width="12.2" height="11.8" viewBox="0 0 12 12" fill="none" stroke="#ec5b46" stroke-width="1.05"><path d="M3.2 3.5Q3.8 1.9 6 1.9Q8.2 1.9 8.8 3.5"/><path d="M4.6 2.1L4.1 0.2M7.4 2.1L7.9 0.2"/><path d="M2.8 3.5H9.2V8.6Q9.2 10.1 7.7 10.1H4.3Q2.8 10.1 2.8 8.6Z"/><path d="M6 3.5V10.1"/><path d="M0.2 4.3H2.8M9.2 4.3H11.8M0.2 7.1H2.8M9.2 7.1H11.8M1.1 11.5L3.1 9.3M10.9 11.5L8.9 9.3"/></svg>
<svg style="left:180.5px;top:547.6px" width="11.5" height="11.5" viewBox="0 0 11.5 11.5"><circle cx="5.75" cy="5.75" r="5.1" fill="none" stroke="#4d6cb8" stroke-width="1.1"/><circle cx="4" cy="4.5" r="0.65" fill="#4d6cb8"/><circle cx="7.5" cy="4.5" r="0.65" fill="#4d6cb8"/><path d="M3.6 8.4Q5.75 6.2 7.9 8.4" fill="none" stroke="#4d6cb8" stroke-width="1"/></svg>
<svg style="left:198.8px;top:547.6px" width="11.5" height="11.5" viewBox="0 0 11.5 11.5"><circle cx="5.75" cy="5.75" r="5.1" fill="none" stroke="#4a4f4a" stroke-width="1.1"/><circle cx="4" cy="4.4" r="0.65" fill="#444"/><circle cx="7.5" cy="4.4" r="0.65" fill="#444"/><path d="M3.4 6.6Q5.75 9.2 8.1 6.6" fill="none" stroke="#444" stroke-width="1"/></svg>
<div class="a" style="left:215.2px;top:548px;width:0.8px;height:10.5px;background:#e0e0e0"></div>
<div class="a" style="left:660px;top:547px;width:67px;height:12.7px;background:#ebebf4;border-radius:2px"></div>
<svg style="left:665px;top:549.8px" width="8" height="6.5" viewBox="0 0 8 6.5"><path d="M0.6 3.4L2.9 5.7L7.5 0.7" fill="none" stroke="#6c6fd6" stroke-width="1.1"/></svg>
<div class="t" style="left:678px;top:550.3px;font-size:7.4px;color:#6466d8;letter-spacing:-0.12px;-webkit-text-stroke:0.2px #6466d8">Skip Inactivity</div>
<svg style="left:734.5px;top:547.6px" width="7.8" height="9" viewBox="0 0 7.8 9" fill="#333"><circle cx="6.5" cy="1.3" r="1.2"/><circle cx="1.3" cy="4.5" r="1.2"/><circle cx="6.5" cy="7.7" r="1.2"/><path d="M6.5 1.3L1.3 4.5L6.5 7.7" fill="none" stroke="#333" stroke-width="0.9"/></svg>
<div class="t" style="left:747px;top:549.9px;font-size:7.5px;color:#444;letter-spacing:-0.1px;-webkit-text-stroke:0.15px #444">Share</div>
<div class="a" style="left:775px;top:548px;width:0.8px;height:10.7px;background:#e0e0e0"></div>
<svg style="left:780.9px;top:547.9px" width="11.6" height="10.9" viewBox="0 0 11.6 10.9" fill="none" stroke="#444" stroke-width="1.1"><path d="M7.2 0.6H11V4.4M11 0.6L6.8 4.6"/><path d="M0.6 6.5V10.3H4.4M0.6 10.3L4.8 6.3"/></svg>
</body></html>
